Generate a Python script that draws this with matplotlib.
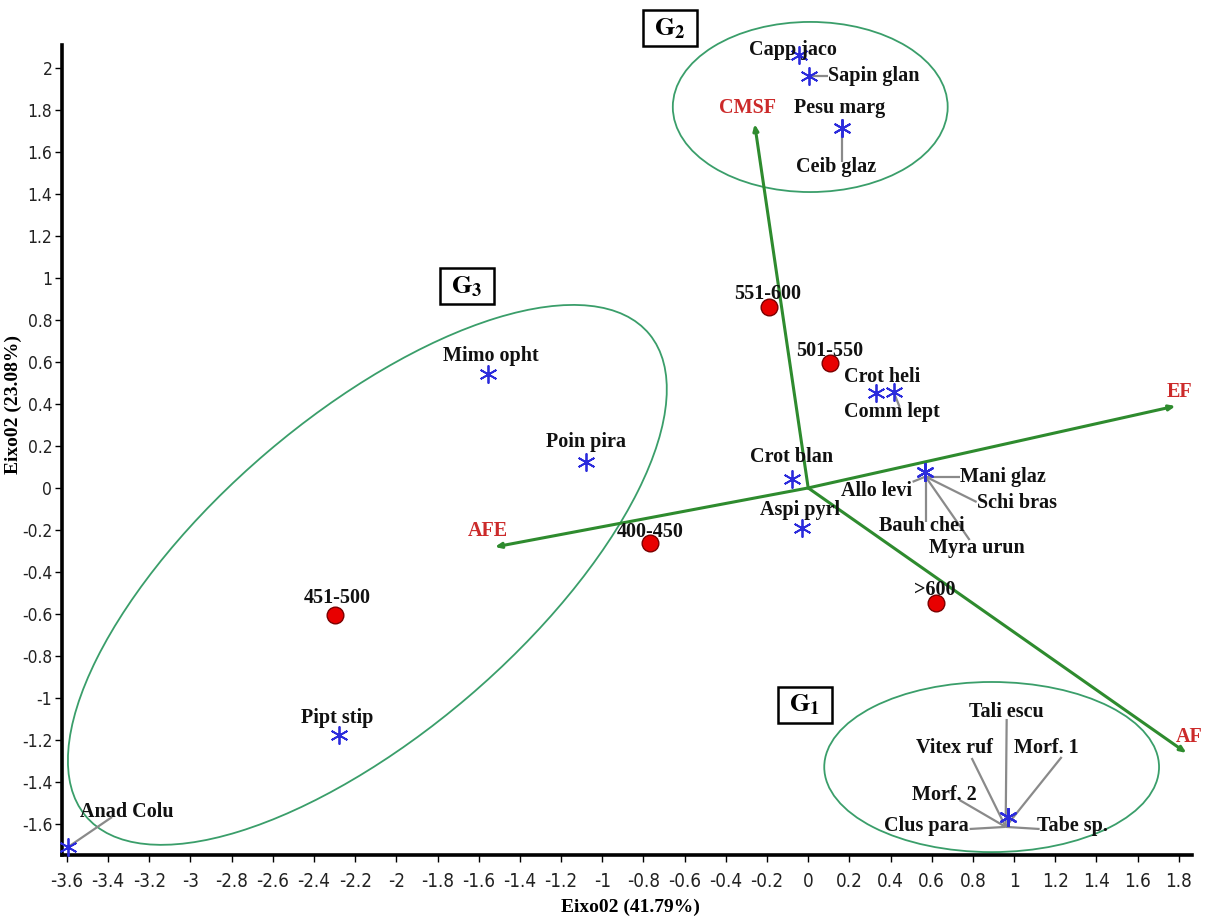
import matplotlib

matplotlib.use("Agg")
import matplotlib.pyplot as plt  # noqa: E402
from matplotlib.patches import Ellipse, Rectangle  # noqa: E402
from matplotlib.ticker import FixedLocator, FuncFormatter  # noqa: E402

# ---- data -----------------------------------------------------------------
species = [
    "Capp jaco", "Sapin glan", "Pesu marg", "Ceib glaz",
    "Mimo opht", "Poin pira", "Crot blan", "Aspi pyrl",
    "Crot heli", "Comm lept",
    "Mani glaz", "Allo levi", "Schi bras", "Bauh chei", "Myra urun",
    "Pipt stip", "Anad Colu",
    "Tali escu", "Vitex ruf", "Morf. 1", "Morf. 2", "Clus para", "Tabe sp.",
]
species_x = [
    -0.046, 0.002, 0.163, 0.163,
    -1.556, -1.080, -0.080, -0.032,
    0.328, 0.415,
    0.566, 0.566, 0.566, 0.566, 0.566,
    -2.279, -3.595,
    0.968, 0.968, 0.968, 0.968, 0.968, 0.968,
]
species_y = [
    2.062, 1.962, 1.714, 1.714,
    0.543, 0.124, 0.043, -0.190,
    0.452, 0.457,
    0.076, 0.076, 0.076, 0.076, 0.076,
    -1.176, -1.710,
    -1.567, -1.567, -1.567, -1.567, -1.567, -1.567,
]

sites = ["400-450", "451-500", "501-550", "551-600", ">600"]
site_x = [-0.769, -2.296, 0.104, -0.192, 0.619]
site_y = [-0.262, -0.605, 0.595, 0.862, -0.548]

env_vars = ["CMSF", "EF", "AFE", "AF"]
env_x = [-0.260, 1.784, -1.522, 1.837]
env_y = [1.733, 0.390, -0.281, -1.262]

x_ticks = [round(-3.6 + 0.2 * i, 1) for i in range(28)]
y_ticks = [round(-1.6 + 0.2 * i, 1) for i in range(19)]

# ---- layout ---------------------------------------------------------------
# label position (x, y, ha) and optional leader end point
species_labels = {
    "Capp jaco": (-0.075, 2.086, "center", None),
    "Sapin glan": (0.095, 1.962, "left", (0.095, 1.962)),
    "Pesu marg": (0.153, 1.810, "center", None),
    "Ceib glaz": (0.138, 1.529, "center", (0.163, 1.552)),
    "Mimo opht": (-1.541, 0.629, "center", None),
    "Poin pira": (-1.080, 0.219, "center", None),
    "Crot blan": (-0.080, 0.148, "center", None),
    "Aspi pyrl": (-0.041, -0.105, "center", None),
    "Crot heli": (0.357, 0.529, "center", None),
    "Comm lept": (0.405, 0.362, "center", (0.444, 0.386)),
    "Mani glaz": (0.735, 0.054, "left", (0.735, 0.054)),
    "Allo levi": (0.502, -0.015, "right", (0.507, 0.029)),
    "Schi bras": (0.818, -0.070, "left", (0.818, -0.067)),
    "Bauh chei": (0.551, -0.182, "center", (0.570, -0.162)),
    "Myra urun": (0.818, -0.288, "center", (0.784, -0.248)),
    "Pipt stip": (-2.289, -1.095, "center", None),
    "Anad Colu": (-3.308, -1.543, "center", (-3.381, -1.567)),
    "Tali escu": (0.964, -1.067, "center", (0.964, -1.100)),
    "Vitex ruf": (0.711, -1.238, "center", (0.794, -1.286)),
    "Morf. 1": (1.158, -1.238, "center", (1.231, -1.281)),
    "Morf. 2": (0.663, -1.462, "center", (0.735, -1.486)),
    "Clus para": (0.575, -1.610, "center", (0.784, -1.624)),
    "Tabe sp.": (1.284, -1.610, "center", (1.124, -1.624)),
}
# leader hubs where lines meet below the marker
hubs = {
    "Mani glaz": (0.570, 0.054), "Allo levi": (0.570, 0.054),
    "Schi bras": (0.570, 0.054), "Bauh chei": (0.570, 0.054),
    "Myra urun": (0.570, 0.054), "Ceib glaz": (0.163, 1.690),
    "Tali escu": (0.959, -1.614), "Vitex ruf": (0.959, -1.614),
    "Morf. 1": (0.959, -1.614), "Morf. 2": (0.959, -1.614),
    "Clus para": (0.959, -1.614), "Tabe sp.": (0.959, -1.614),
}
site_labels = {
    "400-450": (-0.765, -0.210), "451-500": (-2.289, -0.524),
    "501-550": (0.104, 0.652), "551-600": (-0.197, 0.924),
    ">600": (0.614, -0.486),
}
env_labels = {
    "CMSF": (-0.294, 1.810), "EF": (1.803, 0.457),
    "AFE": (-1.556, -0.205), "AF": (1.852, -1.186),
}
# (centre x, centre y, width, height, angle) and box centre of group tag
groups = {
    "1": ((0.891, -1.329, 1.626, 0.810, 0), (-0.017, -1.033)),
    "2": ((0.010, 1.814, 1.335, 0.810, 0), (-0.672, 2.190)),
    "3": ((-2.141, -0.414, 3.572, 1.520, 39.9), (-1.658, 0.960)),
}

SERIF = ["Liberation Serif", "DejaVu Serif"]
NARROW = ["Liberation Sans Narrow", "DejaVu Sans"]
GREEN = "#2e8b2e"
ELLIPSE = "#3a9e6a"
LEADER = "#8a8a8a"

plt.rcParams["axes.unicode_minus"] = False
plt.rcParams["mathtext.fontset"] = "stix"

fig = plt.figure(figsize=(12.11, 9.19), dpi=100)
ax = fig.add_axes([0.0512, 0.0696, 0.9331, 0.8814])
ax.set_xlim(-3.624, 1.864)
ax.set_ylim(-1.748, 2.109)

for side in ("top", "right"):
    ax.spines[side].set_visible(False)
for side in ("left", "bottom"):
    ax.spines[side].set_linewidth(2.6)

ax.xaxis.set_major_locator(FixedLocator(x_ticks))
ax.yaxis.set_major_locator(FixedLocator(y_ticks))
fmt = FuncFormatter(lambda v, _: f"{v:g}")
ax.xaxis.set_major_formatter(fmt)
ax.yaxis.set_major_formatter(fmt)
ax.tick_params(direction="out", length=5, width=1, labelcolor="#222222")
ax.tick_params(axis="y", pad=2, labelsize=12.5)
ax.tick_params(axis="x", pad=7, labelsize=13.5)
for lab in ax.get_xticklabels() + ax.get_yticklabels():
    lab.set_family(NARROW)
    lab.set_fontstretch("condensed")

ax.set_xlabel("Eixo02 (41.79%)", family=SERIF, weight="bold", fontsize=14)
ax.set_ylabel("Eixo02 (23.08%)", family=SERIF, weight="bold", fontsize=14)
ax.xaxis.set_label_coords(0.503, -0.054)
ax.yaxis.set_label_coords(-0.035, 0.556)

# group ellipses and tags
for g, ((cx, cy, w, h, ang), (bx, by)) in groups.items():
    ax.add_patch(Ellipse((cx, cy), w, h, angle=ang, fill=False,
                         edgecolor=ELLIPSE, lw=1.3, zorder=2, clip_on=False))
    ax.add_patch(Rectangle((bx - 0.131, by - 0.086), 0.262, 0.172,
                           fill=False, edgecolor="black", lw=1.8,
                           clip_on=False, zorder=5))
    ax.text(bx, by, rf"$\mathbf{{G}}_\mathbf{{{g}}}$", ha="center",
            va="center", fontsize=19, clip_on=False, zorder=6)

# environmental vectors
for name, ex, ey in zip(env_vars, env_x, env_y):
    ax.annotate("", xy=(ex, ey), xytext=(0, 0),
                arrowprops=dict(arrowstyle="-|>,head_length=0.35,head_width=0.15",
                                color=GREEN, lw=2.2, shrinkA=0, shrinkB=0),
                zorder=3)
    lx, ly = env_labels[name]
    ax.text(lx, ly, name, ha="center", va="center", family=SERIF,
            weight="bold", fontsize=14.5, color="#cc2a2a", zorder=6)

# leader lines
for name, sx, sy in zip(species, species_x, species_y):
    lx, ly, ha, end = species_labels[name]
    if end is not None:
        hx, hy = hubs.get(name, (sx, sy))
        ax.plot([hx, end[0]], [hy, end[1]], color=LEADER, lw=1.6,
                solid_capstyle="butt", zorder=3, clip_on=False)

# species markers and labels
ax.plot(species_x, species_y, linestyle="none", marker=(6, 2, 0),
        markersize=13, markeredgewidth=1.3, color="#2b2bdc", zorder=4,
        clip_on=False)
for name in species:
    lx, ly, ha, _ = species_labels[name]
    ax.text(lx, ly, name, ha=ha, va="center", family=SERIF, weight="bold",
            fontsize=14.5, color="#111111", zorder=6)

# sites
ax.plot(site_x, site_y, linestyle="none", marker="o", markersize=12,
        markerfacecolor="#e80000", markeredgecolor="#7a0000",
        markeredgewidth=1.0, zorder=4, clip_on=False)
for name in sites:
    lx, ly = site_labels[name]
    ax.text(lx, ly, name, ha="center", va="center", family=SERIF,
            weight="bold", fontsize=14.5, color="#111111", zorder=6)

fig.savefig("out.png", dpi=100)
